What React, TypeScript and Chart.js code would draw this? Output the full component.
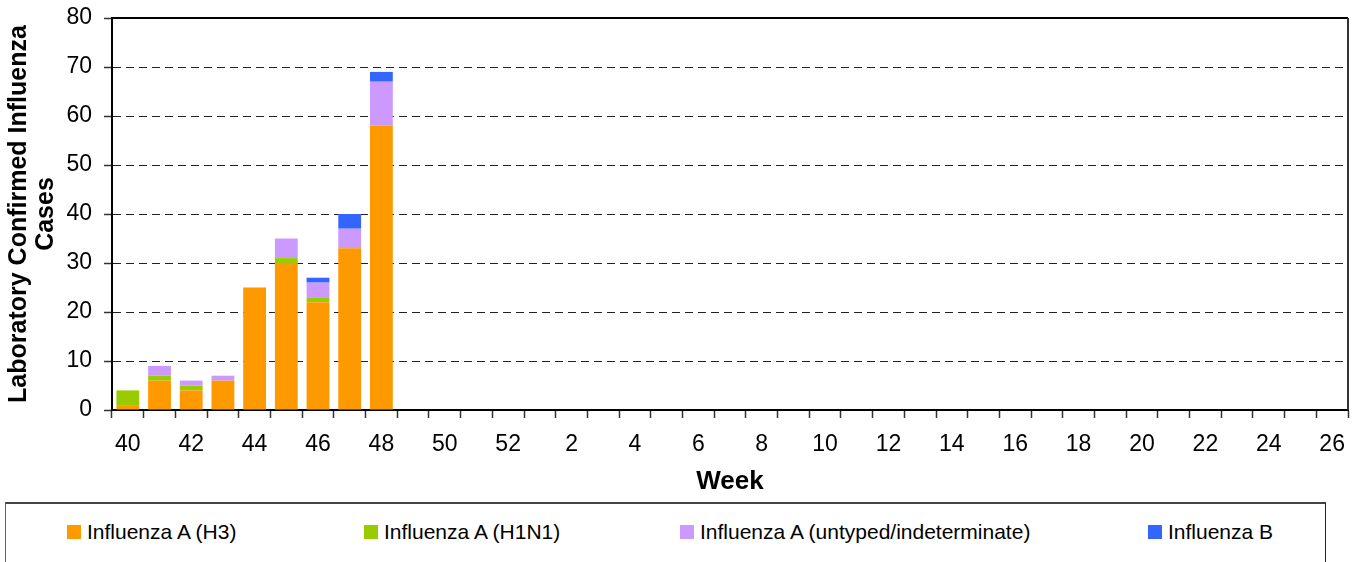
import React, { useEffect, useRef } from "react";
import { Chart, registerables } from "chart.js";

Chart.register(...registerables);

const weeks = [
  "40", "41", "42", "43", "44", "45", "46", "47", "48", "49", "50", "51", "52",
  "1", "2", "3", "4", "5", "6", "7", "8", "9", "10", "11", "12", "13", "14",
  "15", "16", "17", "18", "19", "20", "21", "22", "23", "24", "25", "26",
];

const seriesNames = [
  "Influenza A (H3)",
  "Influenza A (H1N1)",
  "Influenza A (untyped/indeterminate)",
  "Influenza B",
];
const h3 = [1, 6, 4, 6, 25, 30, 22, 33, 58];
const h1n1 = [3, 1, 1, 0, 0, 1, 1, 0, 0];
const untyped = [0, 2, 1, 1, 0, 4, 3, 4, 9];
const fluB = [0, 0, 0, 0, 0, 0, 1, 3, 2];
const seriesColors = ["#FF9900", "#99CC00", "#CC99FF", "#3366FF"];

const yTitle = ["Laboratory Confirmed Influenza", "Cases"];
const xTitle = "Week";

const FONT = "'Liberation Sans', Arial, sans-serif";

const framePlugin = {
  id: "frame",
  afterDraw(chart: any) {
    const { ctx, chartArea } = chart;
    ctx.save();
    ctx.lineWidth = 2;
    ctx.strokeStyle = "#000";
    ctx.beginPath();
    ctx.moveTo(chartArea.left, chartArea.top);
    ctx.lineTo(chartArea.right, chartArea.top);
    ctx.stroke();
    ctx.strokeStyle = "#333";
    ctx.beginPath();
    ctx.moveTo(chartArea.right, chartArea.top);
    ctx.lineTo(chartArea.right, chartArea.bottom);
    ctx.stroke();
    ctx.restore();
  },
};

export default function App() {
  const ref = useRef<HTMLCanvasElement>(null);

  useEffect(() => {
    if (!ref.current) return;
    const data = [h3, h1n1, untyped, fluB];
    const chart = new Chart(ref.current, {
      type: "bar",
      data: {
        labels: weeks,
        datasets: data.map((d, i) => ({
          label: seriesNames[i],
          data: d,
          backgroundColor: seriesColors[i],
          borderWidth: 0,
          barPercentage: 0.72,
          categoryPercentage: 1,
        })),
      },
      options: {
        responsive: false,
        animation: false,
        layout: { padding: { left: 0, right: 11, top: 18, bottom: 0 } },
        plugins: {
          legend: { display: false },
          tooltip: { enabled: false },
        },
        scales: {
          x: {
            stacked: true,
            offset: true,
            grid: {
              offset: true,
              drawOnChartArea: false,
              drawTicks: true,
              tickLength: 8,
              tickColor: "#333",
              tickWidth: 1.5,
            },
            border: { display: true, color: "#000", width: 2 },
            ticks: {
              autoSkip: false,
              maxRotation: 0,
              minRotation: 0,
              padding: 13,
              color: "#000",
              font: { family: FONT, size: 23 },
              callback: (_v: any, i: number) => (i % 2 === 0 ? weeks[i] : ""),
            },
            title: {
              display: true,
              text: xTitle,
              color: "#000",
              font: { family: FONT, size: 26, weight: "bold" },
              padding: { top: 0, bottom: 3 },
            },
            afterFit: (s: any) => {
              s.height = 90;
              s.paddingLeft = 0;
              s.paddingRight = 0;
            },
          },
          y: {
            stacked: true,
            min: 0,
            max: 80,
            ticks: {
              stepSize: 10,
              padding: 12,
              color: "#000",
              font: { family: FONT, size: 23 },
            },
            grid: {
              color: (c: any) =>
                c.tick && (c.tick.value === 0 || c.tick.value === 80)
                  ? "rgba(0,0,0,0)"
                  : "#222",
              lineWidth: 1,
              tickLength: 8,
              tickColor: "#333",
              tickWidth: 1.5,
            },
            border: { display: true, color: "#000", width: 2, dash: [8, 5] },
            title: {
              display: true,
              text: yTitle,
              color: "#000",
              font: { family: FONT, size: 25, weight: "bold", lineHeight: 1.08 },
              padding: { top: 6, bottom: 0 },
            },
            afterFit: (s: any) => {
              s.width = 112;
              s.paddingTop = 0;
              s.paddingBottom = 0;
            },
          },
        },
      },
      plugins: [framePlugin],
    } as any);
    return () => chart.destroy();
  }, []);

  return (
    <div
      style={{
        position: "absolute",
        left: 0,
        top: 0,
        width: 1359,
        height: 562,
        overflow: "hidden",
        background: "#fff",
        fontFamily: FONT,
      }}
    >
      <canvas ref={ref} width={1359} height={500} style={{ display: "block" }} />
      <div
        style={{
          position: "absolute",
          left: 5,
          top: 502,
          width: 1321,
          height: 90,
          borderTop: "2px solid #444",
          borderLeft: "1px solid #666",
          borderRight: "1px solid #222",
          boxSizing: "border-box",
        }}
      >
        {seriesNames.map((name, i) => (
          <div
            key={name}
            style={{
              position: "absolute",
              left: [61, 358, 674, 1142][i],
              top: 16,
              display: "flex",
              alignItems: "center",
              whiteSpace: "nowrap",
              fontSize: 21,
              color: "#000",
              lineHeight: "24px",
            }}
          >
            <span
              style={{
                display: "inline-block",
                width: 14,
                height: 14,
                background: seriesColors[i],
                marginRight: 6,
              }}
            />
            {name}
          </div>
        ))}
      </div>
    </div>
  );
}
